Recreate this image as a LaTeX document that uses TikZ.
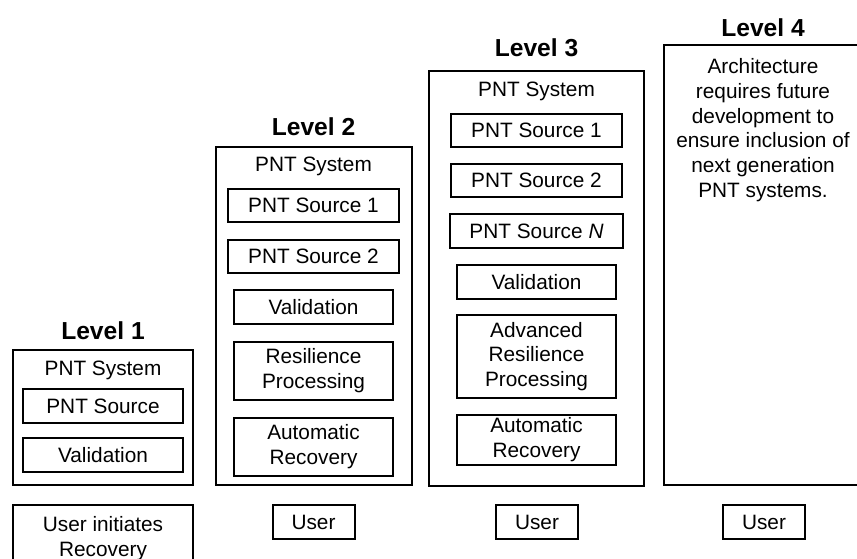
\documentclass[tikz,border=0pt]{standalone}
\usepackage{fontspec}
\setmainfont{Liberation Sans}
\usetikzlibrary{positioning}

\begin{document}
\begin{tikzpicture}[
    x=0.5pt, y=-0.5pt,
    every node/.style={font=\fontsize{10.4}{12.4}\selectfont, inner sep=0pt},
    lvl/.style={font=\fontsize{12.3}{14}\selectfont\bfseries},
    sysbox/.style={rectangle, draw, line width=1pt},
    part/.style={rectangle, draw, line width=1pt, align=center,
                 minimum width=79.5pt, minimum height=17pt},
    src/.style={part, minimum width=85.5pt, minimum height=16.5pt},
    usr/.style={rectangle, draw, line width=1pt, align=center,
                minimum width=41pt, minimum height=17pt},
  ]
    \useasboundingbox (0,0) rectangle (857,558);
    % level 1
    \node[lvl] (t1) at (103, 331) {Level 1};
    \node[sysbox, minimum width=90pt, minimum height=67.5pt] (sys1) at (103, 417.5) {};
    \node (n1) at (103, 370) {PNT System};
    \node[part, minimum width=80pt] (src1) at (103, 406) {PNT Source};
    \node[part, minimum width=80pt, below=6.5pt of src1] (val1) {Validation};
    \node[usr, minimum width=90pt, minimum height=33.5pt] (usr1) at (103, 538.5)
      {User initiates\\Recovery};
    % level 2
    \node[lvl] (t2) at (313.5, 127) {Level 2};
    \node[sysbox, minimum width=98pt, minimum height=169pt] (sys2) at (314, 316) {};
    \node (n2) at (313.5, 166) {PNT System};
    \node[src] (src21) at (313.5, 205.5) {PNT Source 1};
    \node[src, below=8pt of src21] (src22) {PNT Source 2};
    \node[part, below=7.5pt of src22] (val2) {Validation};
    \node[part, minimum height=29pt, below=8pt of val2] (res2) {Resilience\\Processing};
    \node[part, minimum height=29pt, below=8pt of res2] (rec2) {Automatic\\Recovery};
    \node[usr] (usr2) at (313.5, 522) {User};
    % level 3
    \node[lvl] (t3) at (536.5, 48) {Level 3};
    \node[sysbox, minimum width=107.5pt, minimum height=207.5pt] (sys3) at (536.5, 278.5) {};
    \node (n3) at (536.5, 91) {PNT System};
    \node[src] (src31) at (536.5, 130.5) {PNT Source 1};
    \node[src, below=7.5pt of src31] (src32) {PNT Source 2};
    \node[src, minimum width=86.5pt, minimum height=17pt, below=7.5pt of src32] (src3n)
      {PNT Source \textit{N}};
    \node[part, below=7.5pt of src3n] (val3) {Validation};
    \node[part, minimum height=41.5pt, below=7pt of val3] (res3)
      {Advanced\\Resilience\\Processing};
    \node[part, minimum height=25pt, below=7.5pt of res3] (rec3) {Automatic\\Recovery};
    \node[usr] (usr3) at (537, 522) {User};
    % level 4 (box runs past the right edge)
    \node[lvl] (t4) at (763, 28) {Level 4};
    \node[sysbox, minimum width=104pt, minimum height=220pt] (sys4) at (768, 265) {};
    \node[align=center, anchor=north] (note4) at (763, 58)
      {Architecture\\requires future\\development to\\ensure inclusion of\\next generation\\PNT systems.};
    \node[usr] (usr4) at (764, 522) {User};
  \end{tikzpicture}
\end{document}
